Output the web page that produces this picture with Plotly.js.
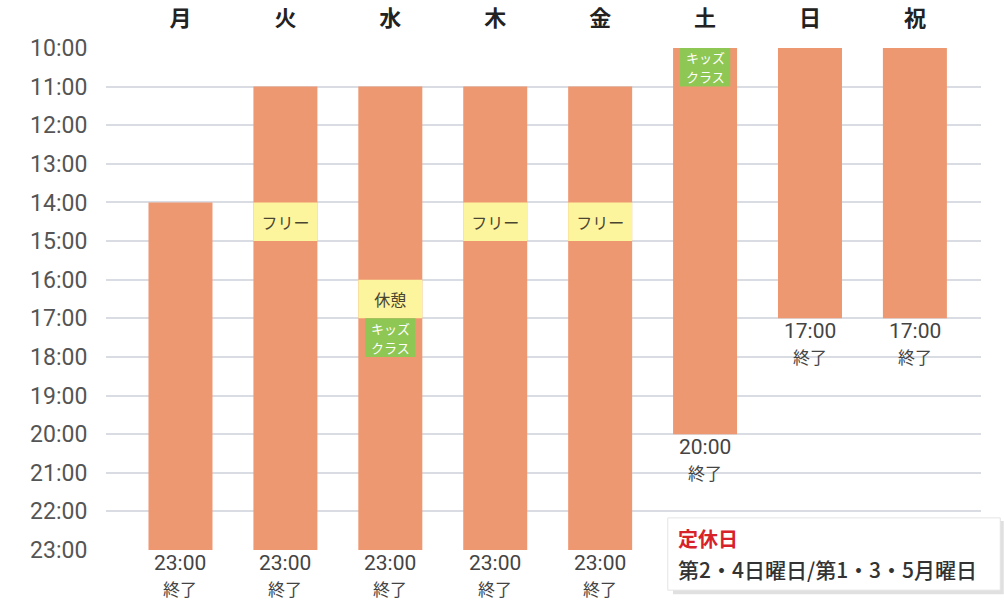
<!DOCTYPE html>
<html>
<head>
<meta charset="utf-8">
<script src="https://cdn.plot.ly/plotly-3.0.1.min.js"></script>
<style>html,body{margin:0;padding:0;background:#fff;}#chart{width:1004px;height:604px;}</style>
</head>
<body>
<div id="chart"></div>
<script>
// ---- data ----
const days = ['月','火','水','木','金','土','日','祝'];
const openTime  = [14, 11, 11, 11, 11, 10, 10, 10];
const closeTime = [23, 23, 23, 23, 23, 20, 17, 17];
const closeLabels = ['23:00','23:00','23:00','23:00','23:00','20:00','17:00','17:00'];
const endWord = '終了';

const yellowDays  = ['火','水','木','金'];
const yellowStart = [14, 16, 14, 14];
const yellowEnd   = [15, 17, 15, 15];
const yellowText  = ['フリー','休憩','フリー','フリー'];

const greenDays  = ['水','土'];
const greenStart = [17, 10];
const greenEnd   = [18, 11];
const greenLine1 = ['キッズ','キッズ'];
const greenLine2 = ['クラス','クラス'];

const hourTicks = [10,11,12,13,14,15,16,17,18,19,20,21,22,23];
const hourLabels = ['10:00','11:00','12:00','13:00','14:00','15:00','16:00','17:00','18:00','19:00','20:00','21:00','22:00','23:00'];

const holidayTitle = '定休日';
const holidayText = '第2・4日曜日/第1・3・5月曜日';

// ---- traces ----
const FONT = '"Noto Sans CJK JP", "Noto Sans", sans-serif';
const NUMFONT = 'Roboto, "Liberation Sans", sans-serif';
const traces = [
  {
    type: 'bar', x: days, base: openTime,
    y: closeTime.map((c, i) => c - openTime[i]),
    width: 0.61, marker: {color: '#EE9872'}, hoverinfo: 'skip'
  },
  {
    type: 'bar', x: yellowDays, base: yellowStart,
    y: yellowEnd.map((e, i) => e - yellowStart[i]),
    width: 0.61, marker: {color: '#FDF49E'},
    text: yellowText, textposition: 'inside', insidetextanchor: 'middle',
    textangle: 0, constraintext: 'none',
    textfont: {color: '#4a4530', size: 16, family: FONT}, hoverinfo: 'skip'
  },
  {
    type: 'bar', x: greenDays, base: greenStart,
    y: greenEnd.map((e, i) => e - greenStart[i]),
    width: 0.48, marker: {color: '#8FC755'}, hoverinfo: 'skip'
  }
];

const annotations = [];
days.forEach((d, i) => {
  annotations.push({x: d, y: closeTime[i], xref: 'x', yref: 'y', text: closeLabels[i],
    showarrow: false, yanchor: 'middle', yshift: -13, borderpad: 0,
    font: {size: 21, color: '#444', family: NUMFONT}});
  annotations.push({x: d, y: closeTime[i], xref: 'x', yref: 'y', text: endWord,
    showarrow: false, yanchor: 'middle', yshift: -38, borderpad: 0,
    font: {size: 17, color: '#444', family: FONT}});
});
greenDays.forEach((d, i) => {
  const mid = (greenStart[i] + greenEnd[i]) / 2;
  annotations.push({x: d, y: mid, xref: 'x', yref: 'y', text: greenLine1[i],
    showarrow: false, yanchor: 'middle', yshift: 9.6, borderpad: 0,
    font: {size: 13, color: '#ffffff', family: FONT}});
  annotations.push({x: d, y: mid, xref: 'x', yref: 'y', text: greenLine2[i],
    showarrow: false, yanchor: 'middle', yshift: -9.6, borderpad: 0,
    font: {size: 13, color: '#ffffff', family: FONT}});
});
annotations.push({xref: 'paper', yref: 'paper', x: 0.652, y: 0.0239, xanchor: 'left', yanchor: 'middle',
  text: holidayTitle, showarrow: false, borderpad: 0,
  font: {size: 20, color: '#D7222A', weight: 'bold', family: FONT}});
annotations.push({xref: 'paper', yref: 'paper', x: 0.652, y: -0.0369, xanchor: 'left', yanchor: 'middle',
  text: holidayText, showarrow: false, borderpad: 0,
  font: {size: 21, color: '#333', weight: 500, family: FONT}});

const layout = {
  width: 1004, height: 604,
  margin: {l: 106, r: 23, t: 48, b: 54},
  paper_bgcolor: '#fff', plot_bgcolor: '#fff',
  showlegend: false, barmode: 'overlay',
  font: {family: FONT, color: '#444'},
  xaxis: {
    type: 'category', side: 'top', range: [-0.71, 7.63],
    tickfont: {size: 22, color: '#222', weight: 'bold', family: FONT},
    ticks: 'outside', ticklen: 12, tickcolor: 'rgba(0,0,0,0)',
    showgrid: false, zeroline: false, showline: false, fixedrange: true
  },
  yaxis: {
    range: [23, 10], tickvals: hourTicks, ticktext: hourLabels,
    tickfont: {size: 23, color: '#555', family: NUMFONT},
    ticks: 'outside', ticklen: 13, tickcolor: 'rgba(0,0,0,0)',
    showgrid: true, gridcolor: '#d9dde3', gridwidth: 2,
    zeroline: false, showline: false, fixedrange: true
  },
  shapes: [
    {type: 'rect', xref: 'paper', yref: 'paper', x0: 0.648, x1: 1.026, y0: 0.058, y1: -0.088,
     fillcolor: 'rgba(0,0,0,0.12)', line: {width: 0}, layer: 'above'},
    {type: 'rect', xref: 'paper', yref: 'paper', x0: 0.642, x1: 1.022, y0: 0.064, y1: -0.080,
     fillcolor: '#ffffff', line: {width: 1, color: '#e4e4e4'}, layer: 'above'}
  ],
  annotations: annotations
};

Plotly.newPlot('chart', traces, layout, {displayModeBar: false, staticPlot: true});
</script>
</body>
</html>
